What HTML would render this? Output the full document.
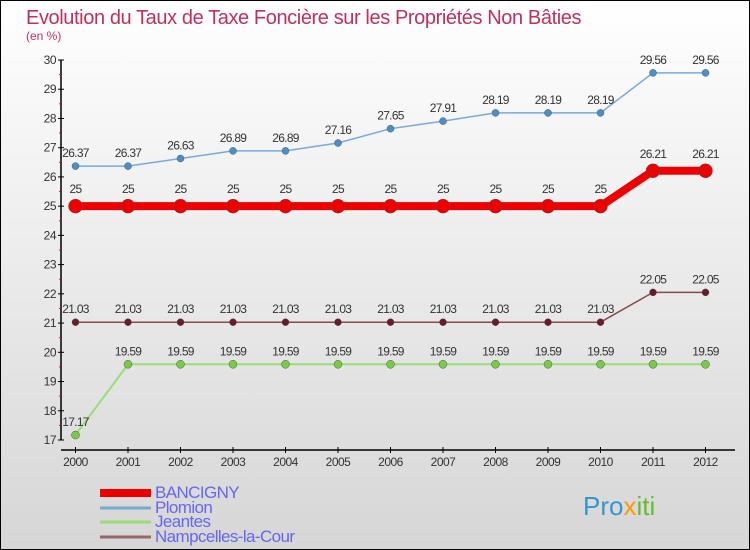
<!DOCTYPE html>
<html><head><meta charset="utf-8"><style>
body{margin:0}
svg{display:block;font-family:"Liberation Sans",sans-serif}
</style></head><body>
<svg width="750" height="550" viewBox="0 0 750 550">
<defs><linearGradient id="bg" x1="0" y1="0" x2="0" y2="1"><stop offset="0" stop-color="#ffffff"/><stop offset="1" stop-color="#d6d6d6"/></linearGradient></defs>
<rect x="0.5" y="0.5" width="749" height="549" fill="url(#bg)" stroke="#000"/>
<text x="26" y="24" font-size="20" letter-spacing="-0.4" fill="#c0305a">Evolution du Taux de Taxe Foncière sur les Propriétés Non Bâties</text>
<text x="26" y="40" font-size="12" fill="#c0305a">(en %)</text>
<g id="axes"></g>
<g id="series"></g>
<g id="legend"></g>
<text x="583" y="515" font-size="26" fill="#3399cc">Pro<tspan fill="#ff9900">x</tspan><tspan fill="#66bb33">iti</tspan></text>
</svg>
<script>
const years=["2000","2001","2002","2003","2004","2005","2006","2007","2008","2009","2010","2011","2012"];
const yTicks=[17,18,19,20,21,22,23,24,25,26,27,28,29,30];
const bancigny=[25,25,25,25,25,25,25,25,25,25,25,26.21,26.21];
const plomion=[26.37,26.37,26.63,26.89,26.89,27.16,27.65,27.91,28.19,28.19,28.19,29.56,29.56];
const jeantes=[17.17,19.59,19.59,19.59,19.59,19.59,19.59,19.59,19.59,19.59,19.59,19.59,19.59];
const nampcelles=[21.03,21.03,21.03,21.03,21.03,21.03,21.03,21.03,21.03,21.03,21.03,22.05,22.05];
const NS="http://www.w3.org/2000/svg";
const xS=i=>75.5+i*52.5;
const yS=v=>440-(v-17)*(380/13);
function mk(tag,attrs,parent){const e=document.createElementNS(NS,tag);for(const k in attrs)e.setAttribute(k,attrs[k]);parent.appendChild(e);return e;}
const ax=document.getElementById('axes');
let yl=mk('line',{x1:61,y1:60,x2:61,y2:440,stroke:'#000','stroke-width':1.5},ax);


yTicks.forEach((t,i)=>{
 let l=mk('line',{x1:58,x2:64,y1:yS(t),y2:yS(t),stroke:'#000'},ax);
 
 
 if(i<yTicks.length-1){let m=mk('line',{x1:59,x2:61,y1:yS(t+0.5),y2:yS(t+0.5),stroke:'#f00'},ax);
 
 }
 let tx=mk('text',{x:56,y:yS(t)+4,'text-anchor':'end','font-size':12,fill:'#333','letter-spacing':'-0.5'},ax);tx.textContent=t;
 
 
});
let xl=mk('line',{x1:61,y1:450,x2:735,y2:450,stroke:'#000','stroke-width':1.5},ax);


years.forEach((y,i)=>{
 let l=mk('line',{x1:xS(i),x2:xS(i),y1:447,y2:453,stroke:'#000'},ax);
 
 
 let tx=mk('text',{x:xS(i),y:466,'text-anchor':'middle','font-size':12,fill:'#333','letter-spacing':'-0.5'},ax);tx.textContent=y;
 
 
});
const sg=document.getElementById('series');
function series(name,vals,color,lw,r,fill,labelDy){
 const g=mk('g',{},sg);
 
 
 let p=mk('polyline',{points:vals.map((v,i)=>xS(i)+','+yS(v)).join(' '),fill:'none',stroke:color,'stroke-width':lw},g);
 
 
 vals.forEach((v,i)=>{
  let c=mk('circle',{cx:xS(i),cy:yS(v),r:r,fill:fill,stroke:'#555','stroke-width':0.5},g);
  
  
  let t=mk('text',{x:xS(i),y:yS(v)+labelDy,'text-anchor':'middle','font-size':12,fill:'#333','letter-spacing':'-0.7'},g);t.textContent=v;
  
  
 });
}
series('jeantes',jeantes,'#99dd77',2,4,'#77cc44',-9);
series('nampcelles',nampcelles,'#8b4a4a',1.5,3.5,'#6b1a2a',-9);
series('plomion',plomion,'#77aadd',1.5,3.5,'#4a8fcc',-9);
series('bancigny',bancigny,'#ee0000',8,7,'#ee0000',-13);
const lg=document.getElementById('legend');
const leg=[['BANCIGNY','#ee0000',8,497],['Plomion','#77aacc',3,512],['Jeantes','#99dd77',3,526],['Nampcelles-la-Cour','#996666',3,541]];
leg.forEach(e=>{
 let l=mk('line',{x1:100,x2:151,y1:e[3]-4,y2:e[3]-4,stroke:e[1],'stroke-width':e[2]},lg);
 
 
 let t=mk('text',{x:155,y:e[3]+1,'font-size':17,fill:'#6666ee','letter-spacing':'-0.6'},lg);t.textContent=e[0];
 
 
});
</script>
</body></html>
